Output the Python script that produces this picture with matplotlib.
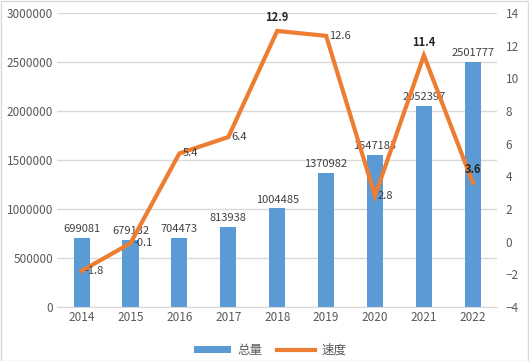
import matplotlib
matplotlib.use('Agg')
import matplotlib.pyplot as plt
from matplotlib.patches import Rectangle
from matplotlib.ticker import FuncFormatter

plt.rcParams['font.family'] = ['Noto Sans CJK SC', 'DejaVu Sans']

years = ['2014', '2015', '2016', '2017', '2018', '2019', '2020', '2021', '2022']
total = [699081, 679132, 704473, 813938, 1004485, 1370982, 1547183, 2052397, 2501777]
speed = [-1.8, -0.1, 5.4, 6.4, 12.9, 12.6, 2.8, 11.4, 3.6]
bold_labels = {4, 7, 8}

bar_c = '#5B9BD5'
line_c = '#ED7D31'
txt_c = '#595959'
grid_c = '#D9D9D9'

fig = plt.figure(figsize=(5.29, 3.61), dpi=100)
fig.patches.append(Rectangle((0.001, 0.001), 0.997, 0.997, transform=fig.transFigure,
                             fill=False, edgecolor='#D9D9D9', lw=1))
ax = fig.add_axes([0.108, 0.150, 0.832, 0.814])
x = list(range(len(years)))

ax.bar(x, total, width=0.33, color=bar_c, zorder=2, label='总量')
ax.set_ylim(0, 3000000)
ax.set_yticks(range(0, 3000001, 500000))
ax.yaxis.set_major_formatter(FuncFormatter(lambda v, p: f'{int(v)}'))
ax.set_xlim(-0.5, len(years) - 0.5)
ax.set_xticks(x)
ax.set_xticklabels(years)
ax.grid(axis='y', color=grid_c, lw=1, zorder=0)
for s in ['top', 'left', 'right']:
    ax.spines[s].set_visible(False)
ax.spines['bottom'].set_color(grid_c)
ax.tick_params(length=0, labelsize=8.5, colors=txt_c, pad=3)
for xi, v in zip(x, total):
    ax.text(xi, v + 40000, str(v), ha='center', va='bottom', fontsize=8, color='#404040', zorder=5)

ax2 = ax.twinx()
ax2.plot(x, speed, color=line_c, lw=3, zorder=3, label='速度', solid_joinstyle='miter')
ax2.set_ylim(-4, 14)
ax2.set_yticks(range(-4, 15, 2))
for s in ['top', 'left', 'right', 'bottom']:
    ax2.spines[s].set_visible(False)
ax2.tick_params(length=0, labelsize=8.5, colors=txt_c, pad=6)
for i, (xi, v) in enumerate(zip(x, speed)):
    if i in bold_labels:
        ax2.text(xi, v + 0.4, f'{v}', ha='center', va='bottom', fontsize=8,
                 fontweight='bold', color='#262626', zorder=6)
    else:
        ax2.text(xi + 0.06, v, f'{v}', ha='left', va='center', fontsize=8,
                 color='#404040', zorder=6)

h1, l1 = ax.get_legend_handles_labels()
h2, l2 = ax2.get_legend_handles_labels()
fig.legend(h1 + h2, l1 + l2, loc='lower center', bbox_to_anchor=(0.51, -0.02), ncol=2,
           frameon=False, fontsize=9, labelcolor=txt_c, handlelength=3.0,
           columnspacing=1.2, handleheight=0.55, handletextpad=0.5)

fig.savefig('out.png', dpi=100)
